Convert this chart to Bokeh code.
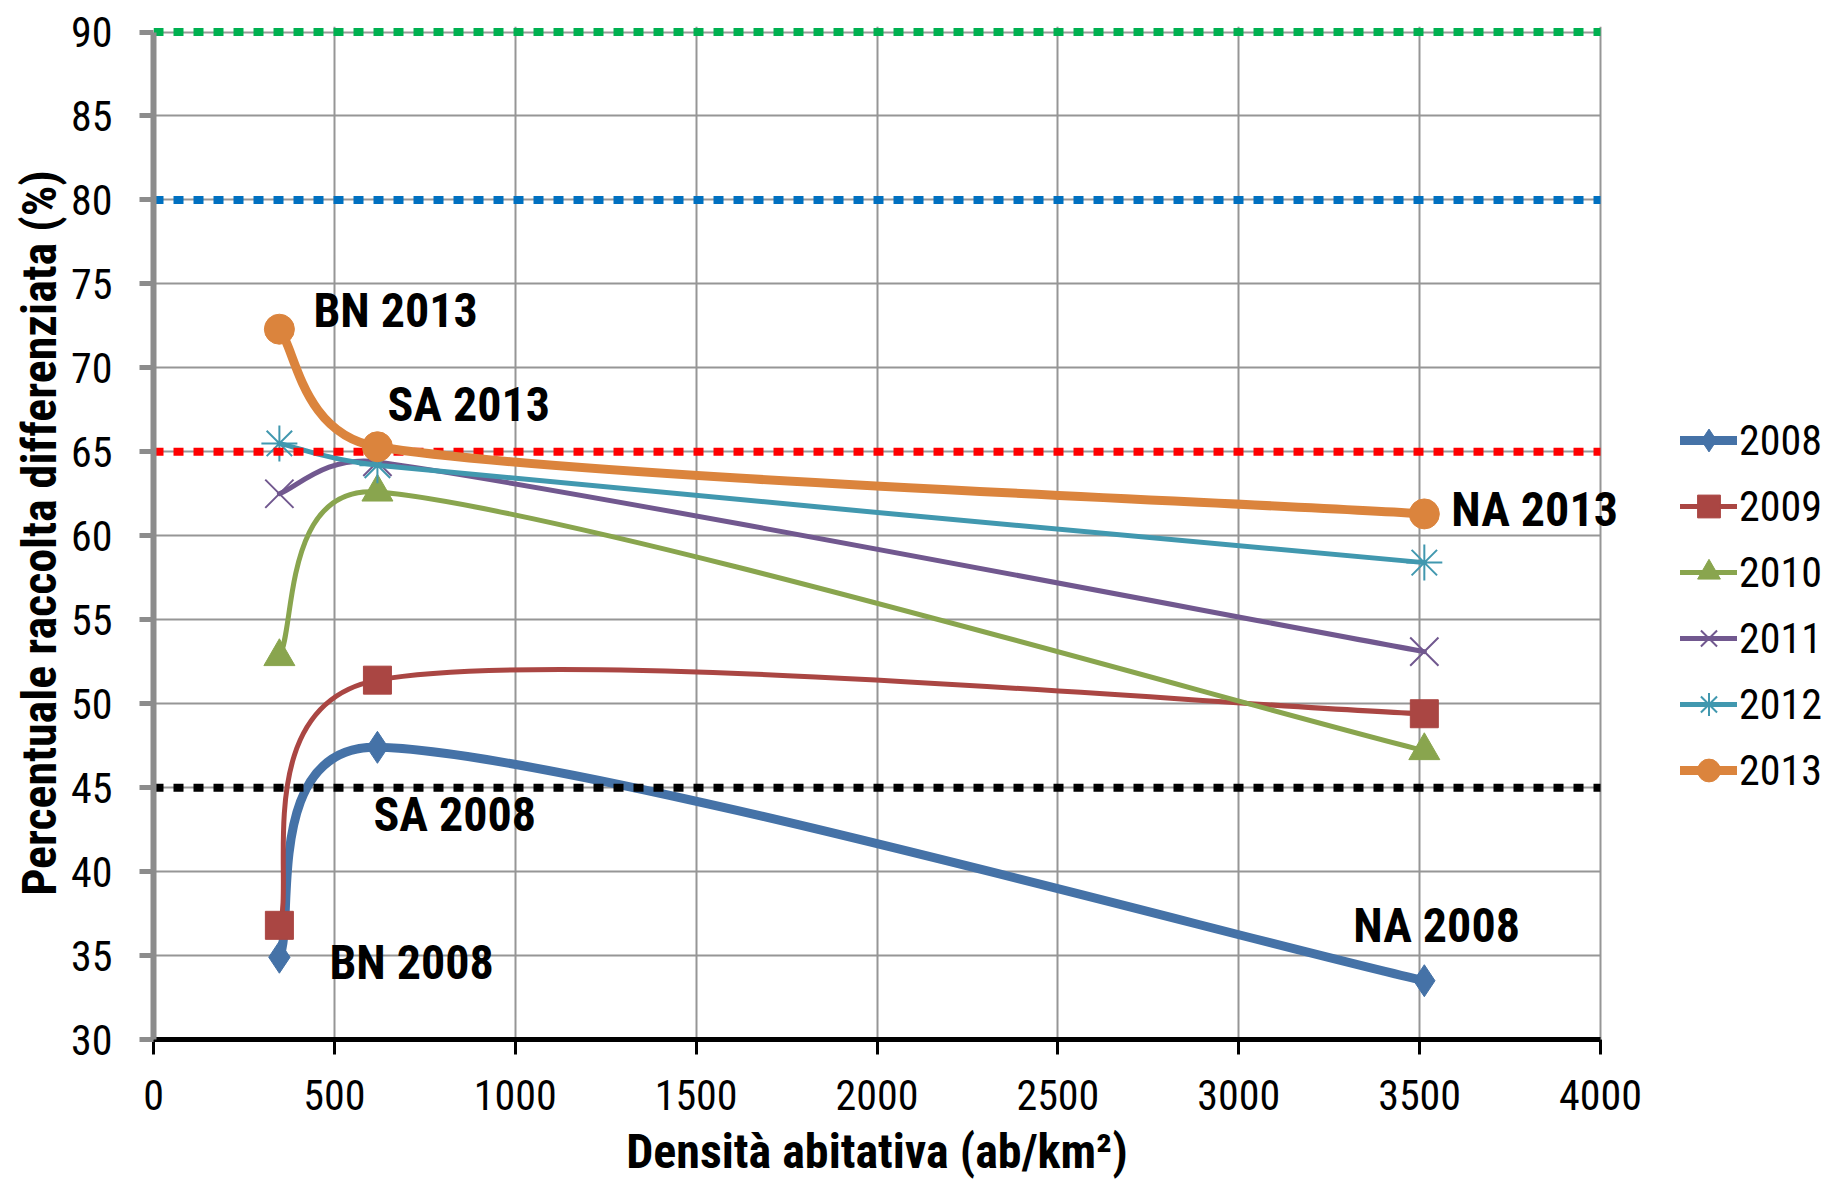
import numpy as np
from bokeh.plotting import figure
from bokeh.models import (Legend, LegendItem, ColumnDataSource,
                          SingleIntervalTicker, Range1d)
from bokeh.core.properties import value
from bokeh.embed import file_html
from bokeh.resources import INLINE

# ---------------- data ----------------
cities = ["BN", "SA", "NA"]
density = [348, 619, 3513]          # ab/km2
years = ["2008", "2009", "2010", "2011", "2012", "2013"]
v2008 = [34.9, 47.4, 33.5]
v2009 = [36.8, 51.4, 49.4]
v2010 = [52.8, 62.6, 47.2]
v2011 = [62.5, 64.4, 53.1]
v2012 = [65.5, 64.2, 58.4]
v2013 = [72.3, 65.3, 61.3]
targets = [90, 80, 65, 45]
x_ticks_step = 500
y_ticks_step = 5

# ---------------- styles ----------------
series = [
    ("2008", v2008, "#4572A7", 9, "diamond", 32),
    ("2009", v2009, "#AA4643", 5, "square", 28),
    ("2010", v2010, "#89A54E", 5, "triangle", 31),
    ("2011", v2011, "#71588F", 5, "x", 40),
    ("2012", v2012, "#4198AF", 5, "asterisk", 36),
    ("2013", v2013, "#DB843D", 9, "circle", 30),
]
target_colors = ["#00B050", "#0070C0", "#FF0000", "#000000"]
GRID_COLOR = "#969696"
FONT = "Liberation Sans Narrow, Roboto Condensed, Arial Narrow, Liberation Sans, sans-serif"

W, H = 1827, 1183
BL, BT = 153, 26
FRAME_BOTTOM = 1039
BB = H - FRAME_BOTTOM
FW_DATA = 1447                      # px used by 0..4000
FW = W - BL                         # frame reaches the right edge (legend lives there)
FH = H - BT - BB
X0, X1, Y0, Y1 = 0, 4000, 30, 90
SX = FW_DATA / (X1 - X0)
X1_VIEW = X0 + FW / SX
SY = (FH - 5.5) / (Y1 - Y0)          # 90 sits 5.5px below the frame top
Y1_VIEW = Y1 + 5.5 / SY


def excel_bezier(xs, ys):
    """Excel-like smoothed line: cubic Bezier segments computed in screen space."""
    P = [np.array([x * SX, y * SY], dtype=float) for x, y in zip(xs, ys)]
    n = len(P)
    out = {k: [] for k in ["x0", "y0", "x1", "y1", "cx0", "cy0", "cx1", "cy1"]}
    for i in range(n - 1):
        p1, p2 = P[i], P[i + 1]
        p0 = P[i - 1] if i > 0 else p1
        p3 = P[i + 2] if i + 2 < n else p2
        d02 = np.linalg.norm(p2 - p0)
        d12 = np.linalg.norm(p2 - p1)
        d13 = np.linalg.norm(p3 - p1)
        f0 = 1 / 6
        f1 = 1 / 6
        if d02 > 0 and d02 / 6 >= d12 / 2:
            f0 = d12 / 2 / d02
        if d13 > 0 and d13 / 6 >= d12 / 2:
            f1 = d12 / 2 / d13
        c1 = p1 + (p2 - p0) * f0
        c2 = p2 - (p3 - p1) * f1
        out["x0"].append(p1[0] / SX); out["y0"].append(p1[1] / SY)
        out["x1"].append(p2[0] / SX); out["y1"].append(p2[1] / SY)
        out["cx0"].append(c1[0] / SX); out["cy0"].append(c1[1] / SY)
        out["cx1"].append(c2[0] / SX); out["cy1"].append(c2[1] / SY)
    return ColumnDataSource(out)


p = figure(width=W, height=H, output_backend="svg", toolbar_location=None,
           x_range=Range1d(X0, X1_VIEW), y_range=Range1d(Y0, Y1_VIEW),
           min_border_left=BL, min_border_right=0,
           min_border_top=BT, min_border_bottom=BB)
p.outline_line_color = None
p.background_fill_color = "white"
p.border_fill_color = "white"

# grid
for g in (p.xgrid, p.ygrid):
    g.grid_line_color = GRID_COLOR
    g.grid_line_width = 2
p.xgrid.ticker = SingleIntervalTicker(interval=x_ticks_step)
p.ygrid.ticker = SingleIntervalTicker(interval=y_ticks_step)
p.xgrid.bounds = (X0, X1)
p.ygrid.bounds = (Y0, Y1)
yg = p.ygrid[0]
if "cross_bounds" in yg.properties():
    yg.cross_bounds = (X0, X1)
else:
    yg.visible = False
    yt = list(range(Y0, Y1 + 1, y_ticks_step))
    p.segment(x0=[X0] * len(yt), x1=[X1] * len(yt), y0=yt, y1=yt,
              line_color=GRID_COLOR, line_width=2, level="underlay")

# axes
p.xaxis.ticker = SingleIntervalTicker(interval=x_ticks_step)
p.yaxis.ticker = SingleIntervalTicker(interval=y_ticks_step)
p.xaxis.bounds = (X0, X1)
p.yaxis.bounds = (Y0, Y1)
for ax in (p.xaxis[0], p.yaxis[0]):
    ax.minor_tick_line_color = None
    ax.major_tick_in = 0
    ax.major_label_text_font = FONT
    ax.major_label_text_font_size = "42px"
    ax.major_label_text_color = "black"
    ax.axis_label_text_font = FONT
    ax.axis_label_text_font_size = "48px"
    ax.axis_label_text_font_style = "bold"
    ax.axis_label_text_color = "black"

p.yaxis.axis_line_color = "#8c8c8c"
p.yaxis.axis_line_width = 6
p.yaxis.major_tick_line_color = "#8c8c8c"
p.yaxis.major_tick_line_width = 5
p.yaxis.major_tick_out = 14
p.yaxis.major_label_standoff = 27
p.yaxis.axis_label = "Percentuale raccolta differenziata (%)"
p.yaxis.axis_label_standoff = 0

p.xaxis.axis_line_color = "black"
p.xaxis.axis_line_width = 5
p.xaxis.major_tick_line_color = "black"
p.xaxis.major_tick_line_width = 3
p.xaxis.major_tick_out = 15
p.xaxis.major_label_standoff = 25

# x-axis title, centred under the 0..4000 span
p.text(x=[(X0 + X1) / 2], y=[Y0], text=["Densità abitativa (ab/km²)"],
       y_offset=112, text_font=value(FONT), text_font_size="48px",
       text_font_style="bold", text_color="black", text_baseline="middle",
       text_align="center", level="overlay")

# series (+ target lines drawn before the last series)
items = []
for name, vals, color, lw, marker, msize in series:
    if name == "2013":
        p.segment(x0=[X0] * len(targets), x1=[X1] * len(targets),
                  y0=targets, y1=targets, line_color=target_colors,
                  line_width=8, line_dash="10 10", line_cap="butt")
    src = excel_bezier(density, vals)
    br = p.bezier(x0="x0", y0="y0", x1="x1", y1="y1", cx0="cx0", cy0="cy0",
                  cx1="cx1", cy1="cy1", source=src, line_color=color,
                  line_width=lw, line_cap="round")
    mk_line_w = 2 if marker in ("x", "asterisk") else 1
    sr = p.scatter(density, vals, marker=marker, size=msize, fill_color=color,
                   line_color=color, line_width=mk_line_w)
    items.append(LegendItem(label=name, renderers=[br, sr]))

legend = Legend(items=items, location=(1527, 236), orientation="vertical",
                glyph_width=57, glyph_height=66, spacing=0, label_height=66,
                label_standoff=2, padding=0, margin=0,
                border_line_color=None, background_fill_alpha=0,
                label_text_font=FONT, label_text_font_size="42px",
                label_text_color="black")
p.add_layout(legend)

# point annotations (anchored to data points, offsets in pixels)
ann_index = [0, 1, 2, 1, 0, 2]
ann_series = [v2013, v2013, v2013, v2008, v2008, v2008]
ann_text = ["BN 2013", "SA 2013", "NA 2013", "SA 2008", "BN 2008", "NA 2008"]
ann_dx = [34, 10, 27, -4, 50, -71]
ann_dy = [-19, -42, -4, 67, 5, -55]
ann_src = ColumnDataSource(dict(
    x=[density[i] for i in ann_index],
    y=[s[i] for i, s in zip(ann_index, ann_series)],
    text=ann_text, dx=ann_dx, dy=ann_dy))
p.text(x="x", y="y", text="text", x_offset="dx", y_offset="dy", source=ann_src,
       text_font=value(FONT), text_font_size="48px", text_font_style="bold",
       text_color="black", text_baseline="middle", text_align="left",
       level="overlay")

open("out.html", "w").write(file_html(p, INLINE))
